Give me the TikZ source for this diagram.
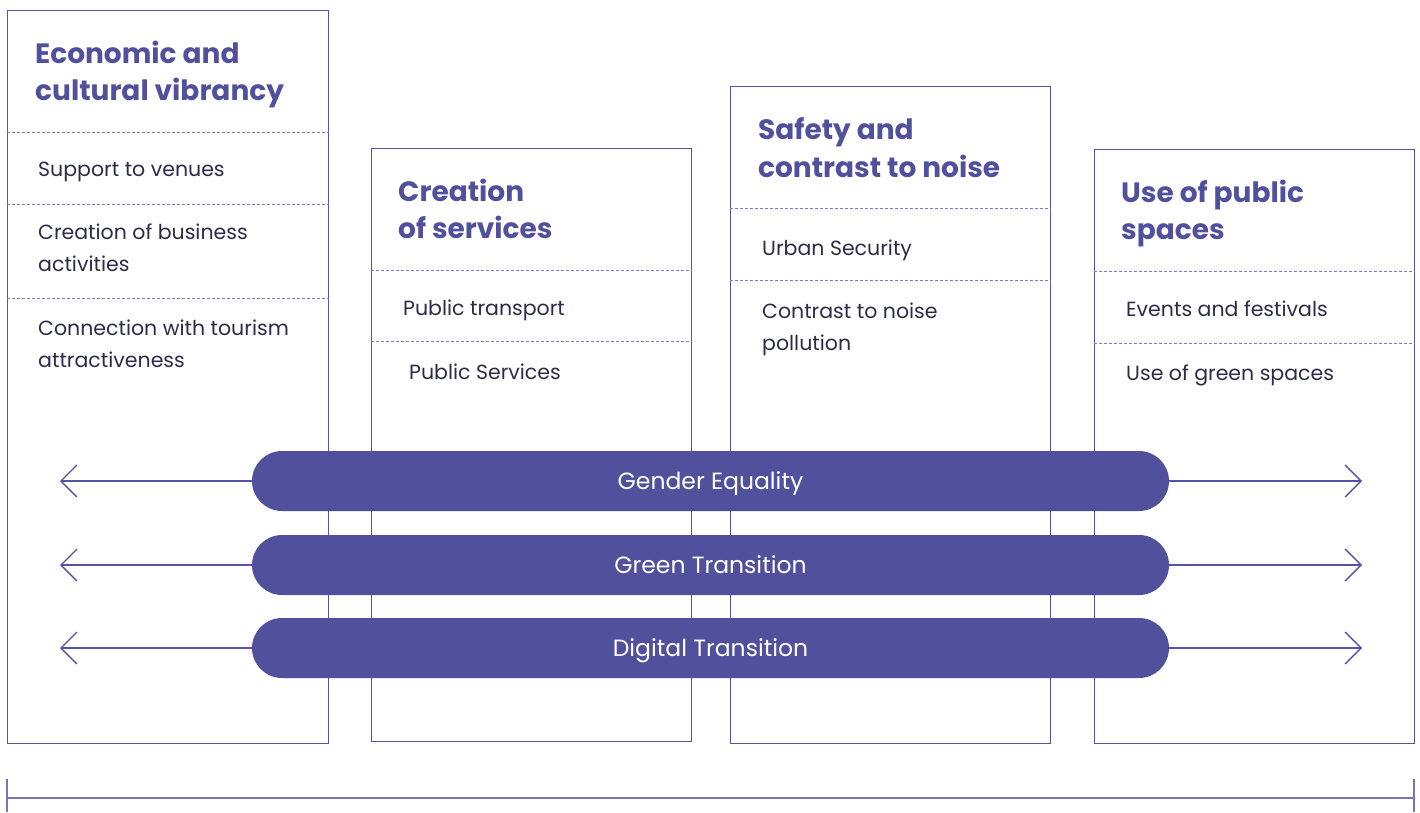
\documentclass[tikz,border=0pt]{standalone}
\usepackage{fontspec}
\setmainfont{Poppins}
\usetikzlibrary{arrows.meta}
\definecolor{violet}{HTML}{51509C}
\definecolor{frame}{HTML}{5553A6}
\definecolor{dots}{HTML}{7E7BC0}
\definecolor{ink}{HTML}{2C2C48}
\tikzset{
  colbox/.style={draw=frame, line width=1.3pt, anchor=north west, inner sep=0pt},
  divider/.style={draw=dots, line width=1pt, dash pattern=on 2.5pt off 2.5pt},
  title/.style={anchor=base west, inner sep=0pt, text=violet, font=\fontsize{28}{32}\selectfont\bfseries},
  item/.style={anchor=base west, inner sep=0pt, text=ink, font=\fontsize{20.5}{24}\selectfont},
  pill/.style={fill=violet, rounded corners=30pt, minimum width=917pt, minimum height=60pt, inner sep=0pt,
    text=white, text height=16.5pt, text depth=0pt, font=\fontsize{23.5}{26}\selectfont},
  arr/.style={draw=frame, line width=1.3pt, -{Straight Barb[length=16pt, width=32pt, line width=1.3pt]}},
  rule/.style={draw=frame!80, line width=1.6pt}
}
\begin{document}
\begin{tikzpicture}[x=1pt, y=-1pt]
\useasboundingbox (0,0) rectangle (1420,812);

% four column frames
\node[colbox, minimum width=321pt, minimum height=733pt] (b1) at (7,10) {};
\node[colbox, minimum width=320pt, minimum height=593pt] (b2) at (371,148) {};
\node[colbox, minimum width=320pt, minimum height=657pt] (b3) at (730,86) {};
\node[colbox, minimum width=320pt, minimum height=594pt] (b4) at (1094,149) {};

% dotted row separators
\draw[divider] (b1.west |- 0,132) -- (b1.east |- 0,132);
\draw[divider] (b1.west |- 0,204) -- (b1.east |- 0,204);
\draw[divider] (b1.west |- 0,298) -- (b1.east |- 0,298);
\draw[divider] (b2.west |- 0,270) -- (b2.east |- 0,270);
\draw[divider] (b2.west |- 0,341) -- (b2.east |- 0,341);
\draw[divider] (b3.west |- 0,208) -- (b3.east |- 0,208);
\draw[divider] (b3.west |- 0,280) -- (b3.east |- 0,280);
\draw[divider] (b4.west |- 0,271) -- (b4.east |- 0,271);
\draw[divider] (b4.west |- 0,343) -- (b4.east |- 0,343);

% column 1
\node[title] (t1a) at (35,63) {Economic and};
\node[title] (t1b) at (35,100) {cultural vibrancy};
\node[item] (i1a) at (38,176) {Support to venues};
\node[item] (i1b) at (38,239) {Creation of business};
\node[item] (i1c) at (38,271) {activities};
\node[item] (i1d) at (38,335) {Connection with tourism};
\node[item] (i1e) at (38,367) {attractiveness};

% column 2
\node[title] (t2a) at (398,201) {Creation};
\node[title] (t2b) at (398,238) {of services};
\node[item] (i2a) at (403,315) {Public transport};
\node[item] (i2b) at (409,379) {Public Services};

% column 3
\node[title] (t3a) at (758,139) {Safety and};
\node[title] (t3b) at (758,177) {contrast to noise};
\node[item] (i3a) at (762,255) {Urban Security};
\node[item] (i3b) at (762,318) {Contrast to noise};
\node[item] (i3c) at (762,350) {pollution};

% column 4
\node[title] (t4a) at (1121,202) {Use of public};
\node[title] (t4b) at (1121,239) {spaces};
\node[item] (i4a) at (1126,316) {Events and festivals};
\node[item] (i4b) at (1126,380) {Use of green spaces};

% cross-cutting themes
\coordinate (l1) at (60,481);  \coordinate (r1) at (1362,481);
\coordinate (l2) at (60,565);  \coordinate (r2) at (1362,565);
\coordinate (l3) at (60,648);  \coordinate (r3) at (1362,648);
\node[pill] (p1) at (710.5,481) {Gender Equality};
\node[pill] (p2) at (710.5,565) {Green Transition};
\node[pill] (p3) at (710.5,648) {Digital Transition};
\draw[arr] (p1.west) -- (l1);
\draw[arr] (p1.east) -- (r1);
\draw[arr] (p2.west) -- (l2);
\draw[arr] (p2.east) -- (r2);
\draw[arr] (p3.west) -- (l3);
\draw[arr] (p3.east) -- (r3);

% bottom span bracket
\coordinate (s1) at (7,798);   \coordinate (s2) at (1414,798);
\coordinate (s1t) at (7,779);  \coordinate (s1b) at (7,812);
\coordinate (s2t) at (1414,779); \coordinate (s2b) at (1414,812);
\draw[rule] (s1) -- (s2);
\draw[rule] (s1t) -- (s1b);
\draw[rule] (s2t) -- (s2b);
\end{tikzpicture}
\end{document}
